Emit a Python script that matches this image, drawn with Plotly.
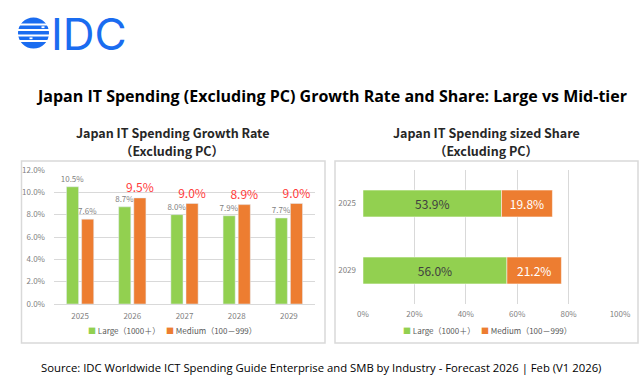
import math
import plotly.graph_objects as go

W, H = 639, 383

years_growth = ["2025", "2026", "2027", "2028", "2029"]
large_growth = [10.5, 8.7, 8.0, 7.9, 7.7]
medium_growth = [7.6, 9.5, 9.0, 8.9, 9.0]
growth_ticks = [0, 2, 4, 6, 8, 10, 12]

years_share = ["2025", "2029"]
large_share = [53.9, 56.0]
medium_share = [19.8, 21.2]
share_ticks = [0, 20, 40, 60, 80, 100]

name_large = "Large（1000＋）"
name_medium = "Medium（100－999）"

GREEN = "#92d050"
ORANGE = "#ed7d31"
GRID = "#d9d9d9"
TICKC = "#7f7f7f"
JP = "Noto Sans CJK JP, Noto Sans, sans-serif"


def px(x):
    return x / W


def py(y):
    return 1 - y / H


fig = go.Figure()

# ---- left chart: growth rate
med_colors = [TICKC if i == 0 else "#ff3b3b" for i in range(len(medium_growth))]
med_sizes = [8 if i == 0 else 12 for i in range(len(medium_growth))]
fig.add_trace(go.Bar(
    x=years_growth, y=large_growth, name=name_large, marker_color=GREEN,
    offsetgroup="L",
    text=[f"{v:.1f}%" for v in large_growth], textposition="outside",
    constraintext="none",
    textfont=dict(size=8, color=TICKC, family=JP), cliponaxis=False,
    xaxis="x", yaxis="y", showlegend=False,
))
fig.add_trace(go.Bar(
    x=years_growth, y=medium_growth, name=name_medium, marker_color=ORANGE,
    offsetgroup="M",
    text=[f"{v:.1f}%" for v in medium_growth], textposition="outside",
    constraintext="none",
    textfont=dict(size=med_sizes, color=med_colors, family=JP), cliponaxis=False,
    xaxis="x", yaxis="y", showlegend=False,
))

# ---- right chart: share (stacked through a shared offset group and base)
fig.add_trace(go.Bar(
    y=years_share, x=large_share, name=name_large, orientation="h",
    offsetgroup="S", width=0.4,
    marker=dict(color=GREEN, line=dict(color="white", width=0.5)),
    text=[f"{v:.1f}%" for v in large_share], textposition="inside",
    insidetextanchor="middle", constraintext="none",
    textfont=dict(size=12, color="#404040", family=JP),
    xaxis="x2", yaxis="y2", showlegend=False,
))
fig.add_trace(go.Bar(
    y=years_share, x=medium_share, base=large_share, name=name_medium,
    orientation="h", offsetgroup="S", width=0.4,
    marker=dict(color=ORANGE, line=dict(color="white", width=0.5)),
    text=[f"{v:.1f}%" for v in medium_share], textposition="inside",
    insidetextanchor="middle", constraintext="none",
    textfont=dict(size=12, color="white", family=JP),
    xaxis="x2", yaxis="y2", showlegend=False,
))

axis_font = dict(size=8, color=TICKC, family=JP)

fig.update_layout(
    width=W, height=H, margin=dict(l=0, r=0, t=0, b=0, autoexpand=False),
    paper_bgcolor="white", plot_bgcolor="white",
    barmode="group", bargap=0.42, bargroupgap=0.2,
    showlegend=False,
    xaxis=dict(domain=[px(54), px(315)], tickfont=axis_font, showgrid=False,
               showline=True, linecolor=GRID, ticks="", anchor="y",
               ticklabelstandoff=4, automargin=False),
    yaxis=dict(domain=[py(304), py(170)], range=[0, 12], tickvals=growth_ticks,
               ticktext=[f"{v:.1f}%" for v in growth_ticks], tickfont=axis_font,
               gridcolor=GRID, gridwidth=1, zeroline=False, showline=False,
               anchor="x", ticklabelstandoff=8, automargin=False),
    xaxis2=dict(domain=[px(363), px(620)], range=[0, 100], tickvals=share_ticks,
                ticktext=[f"{v}%" for v in share_ticks], tickfont=axis_font,
                gridcolor=GRID, gridwidth=1, zeroline=False, showline=False,
                anchor="y2", ticklabelstandoff=4, automargin=False),
    yaxis2=dict(domain=[py(304), py(170)], autorange="reversed", tickfont=axis_font,
                showgrid=False, showline=False, anchor="x2", type="category",
                ticklabelstandoff=6, automargin=False),
)

# boxes
for x0, x1 in [(21.5, 325), (335, 638)]:
    fig.add_shape(type="rect", xref="paper", yref="paper",
                  x0=px(x0), x1=px(x1), y0=py(343), y1=py(161),
                  line=dict(color="#d9d9d9", width=1.5), layer="below")

# legends
legend_text = (f"<span style='color:{GREEN}'>■</span> {name_large}　 "
               f"<span style='color:{ORANGE}'>■</span> {name_medium}")
for cxp in (172, 487):
    fig.add_annotation(x=px(cxp), y=py(330), xref="paper", yref="paper",
                       text=legend_text, showarrow=False,
                       font=dict(size=8, color="#595959", family=JP),
                       xanchor="center", yanchor="middle")

# titles
fig.add_annotation(x=px(331), y=py(96), xref="paper", yref="paper",
                   text="<b>Japan IT Spending (Excluding PC) Growth Rate and Share: Large vs Mid-tier</b>",
                   showarrow=False, font=dict(size=16, color="black", family="Open Sans"),
                   xanchor="center", yanchor="middle")
for cxp, line1 in ((172, "Japan IT Spending Growth Rate"), (486, "Japan IT Spending sized Share")):
    fig.add_annotation(x=px(cxp), y=py(132.5), xref="paper", yref="paper",
                       text=f"<b>{line1}</b>",
                       showarrow=False, font=dict(size=12.5, color="#262626", family=JP),
                       xanchor="center", yanchor="middle")
    fig.add_annotation(x=px(cxp), y=py(150.5), xref="paper", yref="paper",
                       text="<b>（Excluding PC）</b>",
                       showarrow=False, font=dict(size=12.5, color="#262626", family=JP),
                       xanchor="center", yanchor="middle")
fig.add_annotation(x=px(321), y=py(367), xref="paper", yref="paper",
                   text="Source: IDC Worldwide ICT Spending Guide Enterprise and SMB by Industry - Forecast 2026 | Feb (V1 2026)",
                   showarrow=False, font=dict(size=11.3, color="black", family="Open Sans"),
                   xanchor="center", yanchor="middle")

# IDC logo: striped globe
BLUE = "#1a6cf0"
cx, cy, r = 33.5, 33, 15.5
fig.add_shape(type="circle", xref="paper", yref="paper",
              x0=px(cx - r), x1=px(cx + r), y0=py(cy + r), y1=py(cy - r),
              fillcolor=BLUE, line=dict(width=0))
for g in (-8.5, -3.0, 2.5, 8.0):
    fig.add_shape(type="rect", xref="paper", yref="paper",
                  x0=px(cx - r - 1), x1=px(cx + r + 1), y0=py(cy + g + 1.1), y1=py(cy + g - 1.1),
                  fillcolor="white", line=dict(width=0))
for g, xa, xb in [(-5.8, 8, 11), (5.3, -4, -1)]:
    fig.add_shape(type="rect", xref="paper", yref="paper",
                  x0=px(cx + xa), x1=px(cx + xb), y0=py(cy + g + 0.9), y1=py(cy + g - 0.9),
                  fillcolor="white", line=dict(width=0))
fig.add_annotation(x=px(49), y=py(34), xref="paper", yref="paper",
                   text="IDC", showarrow=False,
                   font=dict(size=44, color=BLUE, family="Inter"),
                   xanchor="left", yanchor="middle")

fig.write_html("out.html")
